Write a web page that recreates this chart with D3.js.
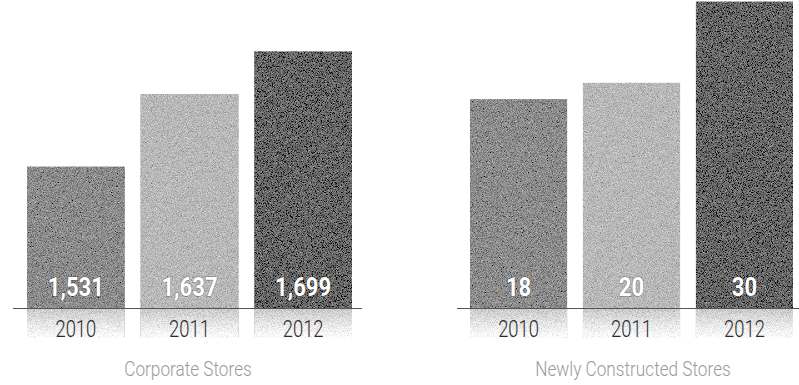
<!DOCTYPE html>
<html>
<head>
<meta charset="utf-8">
<script src="https://cdn.jsdelivr.net/npm/d3@7"></script>
<style>
  body { margin: 0; background: #fff; }
  svg { display: block; }
  .year { font-family: Roboto, "Liberation Sans", sans-serif; font-weight: 300; font-size: 23px; fill: #2a2a2a; }
  .val { font-family: Roboto, "Liberation Sans", sans-serif; font-weight: bold; font-size: 26px; fill: #fff; }
  .title { font-family: Roboto, "Liberation Sans", sans-serif; font-weight: 300; font-size: 20px; fill: #9a9a9a; }
</style>
</head>
<body>
<div id="chart"></div>
<script>
(function () {
    // data
    const years = ["2010", "2011", "2012"];
    const corporateStores = [1531, 1637, 1699];
    const newStores = [18, 20, 30];
    const panelTitles = ["Corporate Stores", "Newly Constructed Stores"];
    const barColors = ["#8d8d8d", "#b9b9b9", "#686868"];

    const width = 799, height = 385;
    const baseY = 308;

    const svg = d3.select("#chart").append("svg")
        .attr("width", width)
        .attr("height", height);

    const defs = svg.append("defs");

    // grainy print texture
    const grain = defs.append("filter").attr("id", "grain")
        .attr("x", 0).attr("y", 0).attr("width", 1).attr("height", 1);
    grain.append("feTurbulence")
        .attr("type", "fractalNoise").attr("baseFrequency", 1.2)
        .attr("numOctaves", 2).attr("seed", 4).attr("result", "noise");
    grain.append("feColorMatrix").attr("in", "noise").attr("type", "matrix")
        .attr("values", "0.33 0.33 0.33 0 0  0.33 0.33 0.33 0 0  0.33 0.33 0.33 0 0  0 0 0 0 1")
        .attr("result", "gray");
    grain.append("feComposite").attr("in", "SourceGraphic").attr("in2", "gray")
        .attr("operator", "arithmetic")
        .attr("k1", 0).attr("k2", 1).attr("k3", 1.2).attr("k4", -0.6)
        .attr("result", "mixed");
    grain.append("feComposite").attr("in", "mixed").attr("in2", "SourceGraphic")
        .attr("operator", "in");

    const grad = defs.append("linearGradient").attr("id", "refl")
        .attr("x1", 0).attr("y1", 0).attr("x2", 0).attr("y2", 1);
    grad.append("stop").attr("offset", "0%").attr("stop-color", "#c8c8c8");
    grad.append("stop").attr("offset", "50%").attr("stop-color", "#e6e6e6");
    grad.append("stop").attr("offset", "100%").attr("stop-color", "#ffffff");

    const panels = [
        { values: corporateStores, title: panelTitles[0], bars: [27, 352], line: [13, 362], domain: [1325, 1774], fmt: d3.format(","), titleX: 188 },
        { values: newStores, title: panelTitles[1], bars: [470, 793], line: [457, 799], domain: [-7.7, 30.2], fmt: d3.format("d"), titleX: 633 }
    ];

    panels.forEach(p => {
        const x = d3.scaleBand()
            .domain(years)
            .range(p.bars)
            .paddingInner(0.14)
            .paddingOuter(0);

        const y = d3.scaleLinear()
            .domain(p.domain)
            .range([baseY, 0]);

        const data = years.map((yr, i) => ({ year: yr, value: p.values[i], color: barColors[i] }));
        const cx = d => x(d.year) + x.bandwidth() / 2;

        const g = svg.append("g");

        // reflections under the axis
        g.selectAll(".refl")
            .data(data)
            .enter().append("rect")
            .attr("class", "refl")
            .attr("x", d => x(d.year))
            .attr("y", baseY)
            .attr("width", x.bandwidth())
            .attr("height", 30)
            .attr("fill", "url(#refl)")
            .attr("filter", "url(#grain)");

        // bars
        g.selectAll(".bar")
            .data(data)
            .enter().append("rect")
            .attr("class", "bar")
            .attr("x", d => x(d.year))
            .attr("y", d => y(d.value))
            .attr("width", x.bandwidth())
            .attr("height", d => baseY - y(d.value))
            .attr("fill", d => d.color)
            .attr("filter", "url(#grain)");

        // baseline
        g.append("line")
            .attr("x1", p.line[0]).attr("x2", p.line[1])
            .attr("y1", baseY + 0.5).attr("y2", baseY + 0.5)
            .attr("stroke", "#555")
            .attr("stroke-width", 1);

        // value labels (condensed by horizontal scaling)
        g.selectAll(".val")
            .data(data)
            .enter().append("text")
            .attr("class", "val")
            .attr("transform", d => `translate(${cx(d)},${baseY - 12}) scale(0.85,1)`)
            .attr("text-anchor", "middle")
            .style("paint-order", "stroke")
            .style("stroke", "rgba(0,0,0,0.3)")
            .style("stroke-width", "1.5px")
            .text(d => p.fmt(d.value));

        // year labels
        g.selectAll(".year")
            .data(data)
            .enter().append("text")
            .attr("class", "year")
            .attr("transform", d => `translate(${cx(d)},337) scale(0.8,1)`)
            .attr("text-anchor", "middle")
            .text(d => d.year);

        g.append("text")
            .attr("class", "title")
            .attr("transform", `translate(${p.titleX},376) scale(0.86,1)`)
            .attr("text-anchor", "middle")
            .text(p.title);
    });
})();
</script>
</body>
</html>
